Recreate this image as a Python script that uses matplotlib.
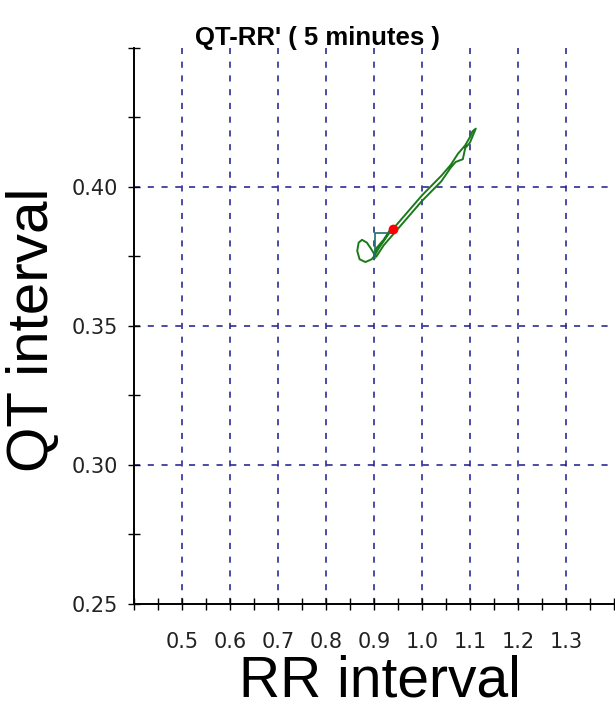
import matplotlib.pyplot as plt
from matplotlib.ticker import MultipleLocator, FixedLocator

# RR / QT trace (seconds)
rr = [0.935, 0.92, 0.905, 0.90, 0.893, 0.885, 0.875, 0.868, 0.865, 0.870, 0.882, 0.895,
      0.90, 0.91, 0.93, 0.96, 1.0, 1.04, 1.06, 1.075, 1.09, 1.10, 1.105, 1.112,
      1.10, 1.09, 1.085, 1.07, 1.06, 1.04, 1.0, 0.97, 0.945, 0.92, 0.905]
qt = [0.385, 0.381, 0.378, 0.376, 0.378, 0.380, 0.381, 0.380, 0.377, 0.374, 0.373, 0.374,
      0.375, 0.378, 0.383, 0.389, 0.397, 0.404, 0.408, 0.412, 0.415, 0.418, 0.420, 0.421,
      0.416, 0.414, 0.410, 0.409, 0.407, 0.402, 0.395, 0.389, 0.384, 0.379, 0.375]
marker_rr = [0.902, 0.902, 0.94]
marker_qt = [0.3745, 0.3835, 0.3835]
current = (0.94, 0.385)

x_ticks = [0.5, 0.6, 0.7, 0.8, 0.9, 1.0, 1.1, 1.2, 1.3]
y_ticks = [0.25, 0.30, 0.35, 0.40]

fig = plt.figure(figsize=(6.15, 7.09), dpi=100)
ax = fig.add_axes([0.2179, 0.1481, 0.7805, 0.7842])

for x in x_ticks:
    ax.axvline(x, color="#1a1a8c", ls=(0, (4, 5)), lw=1.1, zorder=1)
for y in y_ticks[1:]:
    ax.axhline(y, color="#1a1a8c", ls=(0, (4, 5)), lw=1.1, zorder=1)

ax.plot(rr, qt, color="#1a7a1a", lw=1.4, zorder=3)
ax.plot(marker_rr, marker_qt, color="#1f6f6a", lw=1.2, zorder=3)
ax.plot(*current, "o", color="red", ms=6, zorder=4)

ax.set_xlim(0.4, 1.4)
ax.set_ylim(0.25, 0.45)
ax.xaxis.set_major_locator(FixedLocator(x_ticks))
ax.xaxis.set_minor_locator(MultipleLocator(0.05))
ax.yaxis.set_major_locator(FixedLocator(y_ticks))
ax.yaxis.set_minor_locator(MultipleLocator(0.025))
ax.set_xticklabels([f"{v:.1f}" for v in x_ticks])
ax.set_yticklabels([f"{v:.2f}" for v in y_ticks])
ax.tick_params(which="both", direction="inout", length=9, width=1,
               labelsize=15, labelcolor="#222222")
ax.tick_params(axis="x", pad=16)
ax.tick_params(axis="y", pad=7)
ax.spines["top"].set_visible(False)
ax.spines["right"].set_visible(False)
ax.spines["left"].set_linewidth(1.4)
ax.spines["bottom"].set_linewidth(1.4)

fig.text(0.516, 0.946, "QT-RR' ( 5 minutes )", ha="center", va="center",
         fontsize=18.5, fontweight="bold", family="Liberation Sans")
fig.text(0.054, 0.535, "QT interval", rotation=90, ha="center", va="center",
         fontsize=42, family="Liberation Sans")
fig.text(0.618, 0.018, "RR interval", ha="center", va="baseline",
         fontsize=41, family="Liberation Sans")

fig.savefig("out.png", dpi=100, facecolor="white")
